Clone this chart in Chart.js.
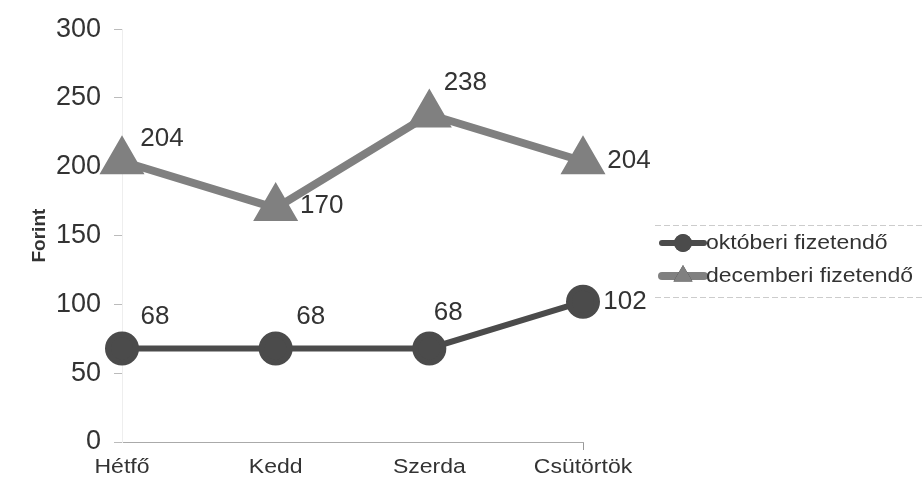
<!DOCTYPE html>
<html>
<head>
<meta charset="utf-8">
<script src="https://cdn.jsdelivr.net/npm/chart.js@4/dist/chart.umd.min.js"></script>
<style>
  html, body { margin: 0; padding: 0; background: #fff; }
  #wrap { width: 924px; height: 484px; }
</style>
</head>
<body>
<div id="wrap"><canvas id="myChart" width="924" height="484"></canvas></div>
<script>
const labels = ['Hétfő', 'Kedd', 'Szerda', 'Csütörtök'];
const oktoberi = [68, 68, 68, 102];
const decemberi = [204, 170, 238, 204];
const seriesNames = ['októberi fizetendő', 'decemberi fizetendő'];
const yMin = 0;
const yMax = 300;
const yStep = 50;

const FONT = "'Liberation Sans', Arial, sans-serif";
const STRETCH = 1.15; // the scanned text is a bit wider than it is tall

// offsets of the value labels from their point, per dataset
const labelOffsets = [
    [[33, -32], [35, -32], [19, -36], [42, 0]],
    [[40, -22], [46, -2], [36, -32], [46, 0]]
];

function wideText(ctx, text, x, y, align) {
    ctx.save();
    ctx.translate(x, y);
    ctx.scale(STRETCH, 1);
    ctx.textAlign = align;
    ctx.fillText(text, 0, 0);
    ctx.restore();
}

const valueLabels = {
    id: 'valueLabels',
    afterDatasetsDraw(chart) {
        const ctx = chart.ctx;
        ctx.save();
        ctx.font = '26px ' + FONT;
        ctx.fillStyle = '#333';
        ctx.textAlign = 'center';
        ctx.textBaseline = 'middle';
        chart.data.datasets.forEach((ds, d) => {
            chart.getDatasetMeta(d).data.forEach((pt, i) => {
                const off = labelOffsets[d][i];
                ctx.fillText(String(ds.data[i]), pt.x + off[0], pt.y + off[1]);
            });
        });
        ctx.restore();
    }
};

// category labels, drawn at the x scale's tick positions
const xLabels = {
    id: 'xLabels',
    afterDraw(chart) {
        const ctx = chart.ctx;
        const xs = chart.scales.x;
        ctx.save();
        ctx.font = '20px ' + FONT;
        ctx.fillStyle = '#333';
        ctx.textBaseline = 'middle';
        xs.ticks.forEach((t, i) => {
            wideText(ctx, xs.getLabelForValue(t.value), xs.getPixelForTick(i), 467, 'center');
        });
        ctx.restore();
    }
};

const sideLegend = {
    id: 'sideLegend',
    afterDraw(chart) {
        const ctx = chart.ctx;
        ctx.save();
        ctx.strokeStyle = '#ccc';
        ctx.lineWidth = 1;
        ctx.setLineDash([6, 3]);
        [225, 297].forEach(y => {
            ctx.beginPath();
            ctx.moveTo(655, y + 0.5);
            ctx.lineTo(922, y + 0.5);
            ctx.stroke();
        });
        ctx.setLineDash([]);
        const rows = [243, 276];
        chart.data.datasets.forEach((ds, d) => {
            const y = rows[d];
            ctx.strokeStyle = ds.borderColor;
            ctx.lineWidth = ds.borderWidth;
            ctx.lineCap = 'round';
            ctx.beginPath();
            ctx.moveTo(662, y);
            ctx.lineTo(704, y);
            ctx.stroke();
            Chart.helpers.drawPoint(ctx, {
                pointStyle: ds.pointStyle,
                radius: d === 0 ? 9 : 11,
                borderWidth: 0,
                rotation: 0
            }, 683, y);
            ctx.fillStyle = ds.pointBackgroundColor;
            ctx.fill();
            ctx.fillStyle = '#333';
            ctx.font = '20px ' + FONT;
            ctx.textBaseline = 'middle';
            wideText(ctx, ds.label, 706, y, 'left');
        });
        ctx.restore();
    }
};

const data = {
    labels: labels,
    datasets: [{
        label: seriesNames[0],
        data: oktoberi,
        borderColor: '#4b4b4b',
        backgroundColor: '#4b4b4b',
        pointBackgroundColor: '#4b4b4b',
        pointBorderColor: '#4b4b4b',
        borderWidth: 6,
        pointStyle: 'circle',
        pointRadius: 14,
        pointHoverRadius: 14,
        tension: 0,
        clip: false
    }, {
        label: seriesNames[1],
        data: decemberi,
        borderColor: '#808080',
        backgroundColor: '#808080',
        pointBackgroundColor: '#808080',
        pointBorderColor: '#808080',
        borderWidth: 8,
        pointStyle: 'triangle',
        pointRadius: 18,
        pointHoverRadius: 18,
        tension: 0,
        clip: false
    }]
};

const config = {
    type: 'line',
    data: data,
    plugins: [valueLabels, xLabels, sideLegend],
    options: {
        responsive: false,
        animation: false,
        events: [],
        layout: { padding: { top: 27, right: 341, left: 28, bottom: 0 } },
        plugins: {
            legend: { display: false },
            tooltip: { enabled: false }
        },
        scales: {
            x: {
                type: 'category',
                offset: false,
                afterFit(scale) { scale.height = 42; },
                grid: {
                    drawOnChartArea: false,
                    tickLength: 8,
                    color: c => c.index === labels.length - 1 ? '#999' : 'rgba(0,0,0,0)'
                },
                border: { display: true, color: '#aaa', width: 1 },
                ticks: { display: false, autoSkip: false, maxRotation: 0 }
            },
            y: {
                min: yMin,
                max: yMax,
                afterFit(scale) { scale.width = 94; },
                grid: {
                    drawOnChartArea: false,
                    tickLength: 8,
                    color: '#bbb'
                },
                border: { display: true, color: '#eee', width: 1 },
                ticks: {
                    stepSize: yStep,
                    padding: 13,
                    color: '#333',
                    font: { family: FONT, size: 27 }
                },
                title: {
                    display: true,
                    text: 'Forint',
                    color: '#333',
                    padding: 0,
                    font: { family: FONT, size: 19, weight: 'bold' }
                }
            }
        }
    }
};

const myChart = new Chart(
    document.getElementById('myChart'),
    config
);
</script>
</body>
</html>
